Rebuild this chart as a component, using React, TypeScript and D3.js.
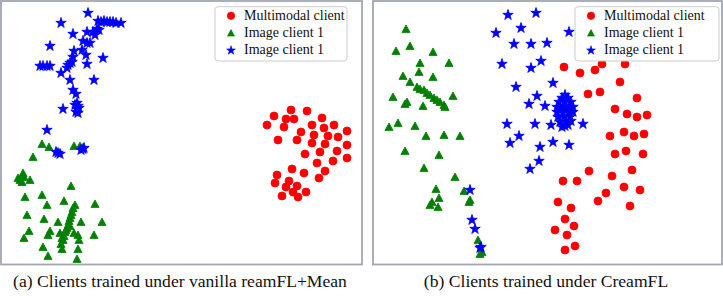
import React from 'react';
import * as d3 from 'd3';

type P = [number, number];

const seriesNames = ['Multimodal client', 'Image client 1', 'Image client 1'];
const seriesColors = ['#ff0000', '#008000', '#0000ff'];
const captions = ['(a) Clients trained under vanilla reamFL+Mean', '(b) Clients trained under CreamFL'];

// Panel (a): embedding coordinates
const aMultimodal: P[] = [
  [291,110],[307,111],[274,116],[286,119],[294,119],[267,125],[284,127],[301,132],[312,125],[322,118],
  [324,128],[334,125],[347,131],[314,135],[328,136],[338,137],[278,140],[297,140],[312,143],[325,144],
  [347,145],[305,154],[320,152],[337,151],[317,163],[333,161],[347,158],[292,169],[325,171],[277,175],
  [304,173],[319,178],[289,181],[275,183],[297,186],[286,187],[306,192],[293,192],[282,196],[298,197],
];
const aImageGreen: P[] = [
  [42,144],[49,147],[74,146],[80,146],[33,157],[23,173],[18,178],[22,182],[30,180],[24,177],[20,180],
  [71,186],[25,197],[42,195],[64,201],[47,205],[75,205],[73,208],[72,212],[71,215],[70,218],[69,221],
  [68,225],[67,228],[70,226],[65,232],[66,230],[64,236],[63,240],[60,233],[95,204],[27,215],[44,219],
  [58,222],[81,222],[102,222],[29,231],[50,231],[48,235],[24,238],[74,233],[78,235],[79,240],[62,238],
  [61,244],[94,235],[43,247],[62,249],[78,249],[48,256],[77,259],
];
const aImageBlue: P[] = [
  [88,13],[61,23],[98,21],[101,22],[104,21],[107,22],[110,22],[113,22],[116,23],[121,23],[73,34],
  [87,32],[97,29],[95,35],[93,32],[99,30],[50,46],[83,41],[87,43],[90,43],[74,51],[82,50],[86,55],
  [103,58],[73,57],[72,62],[40,66],[43,66],[47,66],[50,66],[68,65],[67,68],[70,63],[87,64],[61,73],
  [70,80],[94,80],[73,90],[76,94],[77,103],[78,106],[77,109],[76,112],[78,113],[79,108],[75,105],
  [63,109],[47,130],[58,153],[56,152],[60,154],[83,149],[81,150],[84,148],
];

// Panel (b)
const bMultimodal: P[] = [
  [192,67],[208,73],[223,70],[230,64],[253,64],[248,82],[216,94],[228,92],[265,98],[243,109],
  [255,114],[265,117],[275,115],[238,136],[252,132],[262,136],[272,134],[243,154],[254,151],[271,154],
  [217,171],[205,181],[191,181],[240,176],[260,170],[252,187],[268,190],[234,193],[226,201],[258,206],
  [186,202],[199,208],[193,219],[202,226],[183,230],[195,235],[203,246],[193,250],
];
const bImageGreen: P[] = [
  [34,29],[38,46],[24,51],[61,52],[48,63],[77,63],[47,72],[31,76],[61,77],[38,82],[45,87],[48,89],
  [52,90],[55,93],[58,95],[62,98],[65,100],[68,102],[72,105],[73,107],[81,96],[21,97],[35,102],
  [33,104],[51,106],[17,127],[26,123],[43,126],[54,136],[72,135],[88,136],[33,151],[67,155],[52,168],
  [83,177],[64,189],[92,191],[67,198],[60,202],[58,205],[66,207],[98,200],[97,202],[106,240],
  [110,252],[108,254],
];
const bImageBlue: P[] = [
  [136,15],[164,13],[149,28],[124,33],[197,32],[142,44],[159,44],[175,43],[130,64],[159,68],[169,61],
  [144,87],[181,83],[165,96],[157,104],[173,106],[135,124],[163,124],[179,125],[211,124],[138,143],
  [147,136],[168,147],[181,142],[197,145],[167,161],[158,169],[98,190],[100,220],[103,229],[108,248],
  [109,247],
  [193,95],[190,98],[196,98],[187,102],[193,102],[199,102],[185,107],[191,107],[197,107],[201,107],
  [185,112],[191,112],[197,112],[201,112],[186,117],[192,117],[198,117],[188,122],[194,122],[199,121],
  [193,126],[190,127],[196,125],[193,110],[188,110],[198,110],
];

const panelSeries: P[][][] = [
  [aMultimodal, aImageGreen, aImageBlue],
  [bMultimodal, bImageGreen, bImageBlue],
];

const W = 723;
const H = 303;
const FONT = "'Liberation Serif', 'Times New Roman', 'DejaVu Serif', serif";

const frames = [
  { x: 1, y: 1, w: 361, h: 263.5, legendX: 215, legendW: 132, capX: 180 },
  { x: 373, y: 1, w: 349, h: 263.5, legendX: 575, legendW: 144, capX: 546 },
];

const triangleType = {
  draw(ctx: any, size: number) {
    const r = Math.sqrt(size) / 2;
    ctx.moveTo(0, -r);
    ctx.lineTo(r, r * 0.85);
    ctx.lineTo(-r, r * 0.85);
    ctx.closePath();
  },
};

const symbolTypes: any[] = [d3.symbolCircle, triangleType, d3.symbolStar];
const symbolSizes = [50, 66, 34];
const legendSizes = [44, 50, 24];

export default function App() {
  const gens = symbolTypes.map((t, i) => d3.symbol().type(t).size(symbolSizes[i]));
  const lgens = symbolTypes.map((t, i) => d3.symbol().type(t).size(legendSizes[i]));
  return (
    <svg width={W} height={H} style={{ position: 'absolute', left: 0, top: 0, background: '#fff', fontFamily: FONT }}>
      <rect x={0} y={0} width={W} height={H} fill="#fff" />
      {frames.map((f, pi) => {
        const offX = pi === 0 ? 0 : 372;
        const xs = d3.scaleLinear().domain([0, 360]).range([offX, offX + 360]);
        const ys = d3.scaleLinear().domain([0, 263]).range([0, 263]);
        return (
          <g key={pi}>
            {panelSeries[pi].map((pts, si) => (
              <g key={si} fill={seriesColors[si]} stroke={seriesColors[si]} strokeWidth={0.8}>
                {pts.map((p, k) => (
                  <path key={k} d={gens[si]() as string} transform={`translate(${xs(p[0])},${ys(p[1])})`} />
                ))}
              </g>
            ))}
            <rect x={f.x} y={f.y} width={f.w} height={f.h} fill="none" stroke="#a3a6b0" strokeWidth={1.8} />
            <g>
              <rect x={f.legendX} y={6.7} width={f.legendW} height={54.3} rx={3} fill="#fff" fillOpacity={0.85}
                stroke="#cccccc" strokeWidth={1} />
              {seriesNames.map((name, si) => (
                <g key={si}>
                  <path d={lgens[si]() as string} fill={seriesColors[si]} stroke={seriesColors[si]} strokeWidth={0.6}
                    transform={`translate(${f.legendX + 16},${15.8 + si * 17.3})`} />
                  <text x={f.legendX + 29} y={20.3 + si * 17} fontSize={14} fill="#111"
                    style={{ fontFamily: FONT }}>{name}</text>
                </g>
              ))}
            </g>
            <text x={f.capX} y={287} fontSize={17.6} textAnchor="middle" fill="#111"
              style={{ fontFamily: FONT }}>{captions[pi]}</text>
          </g>
        );
      })}
    </svg>
  );
}
